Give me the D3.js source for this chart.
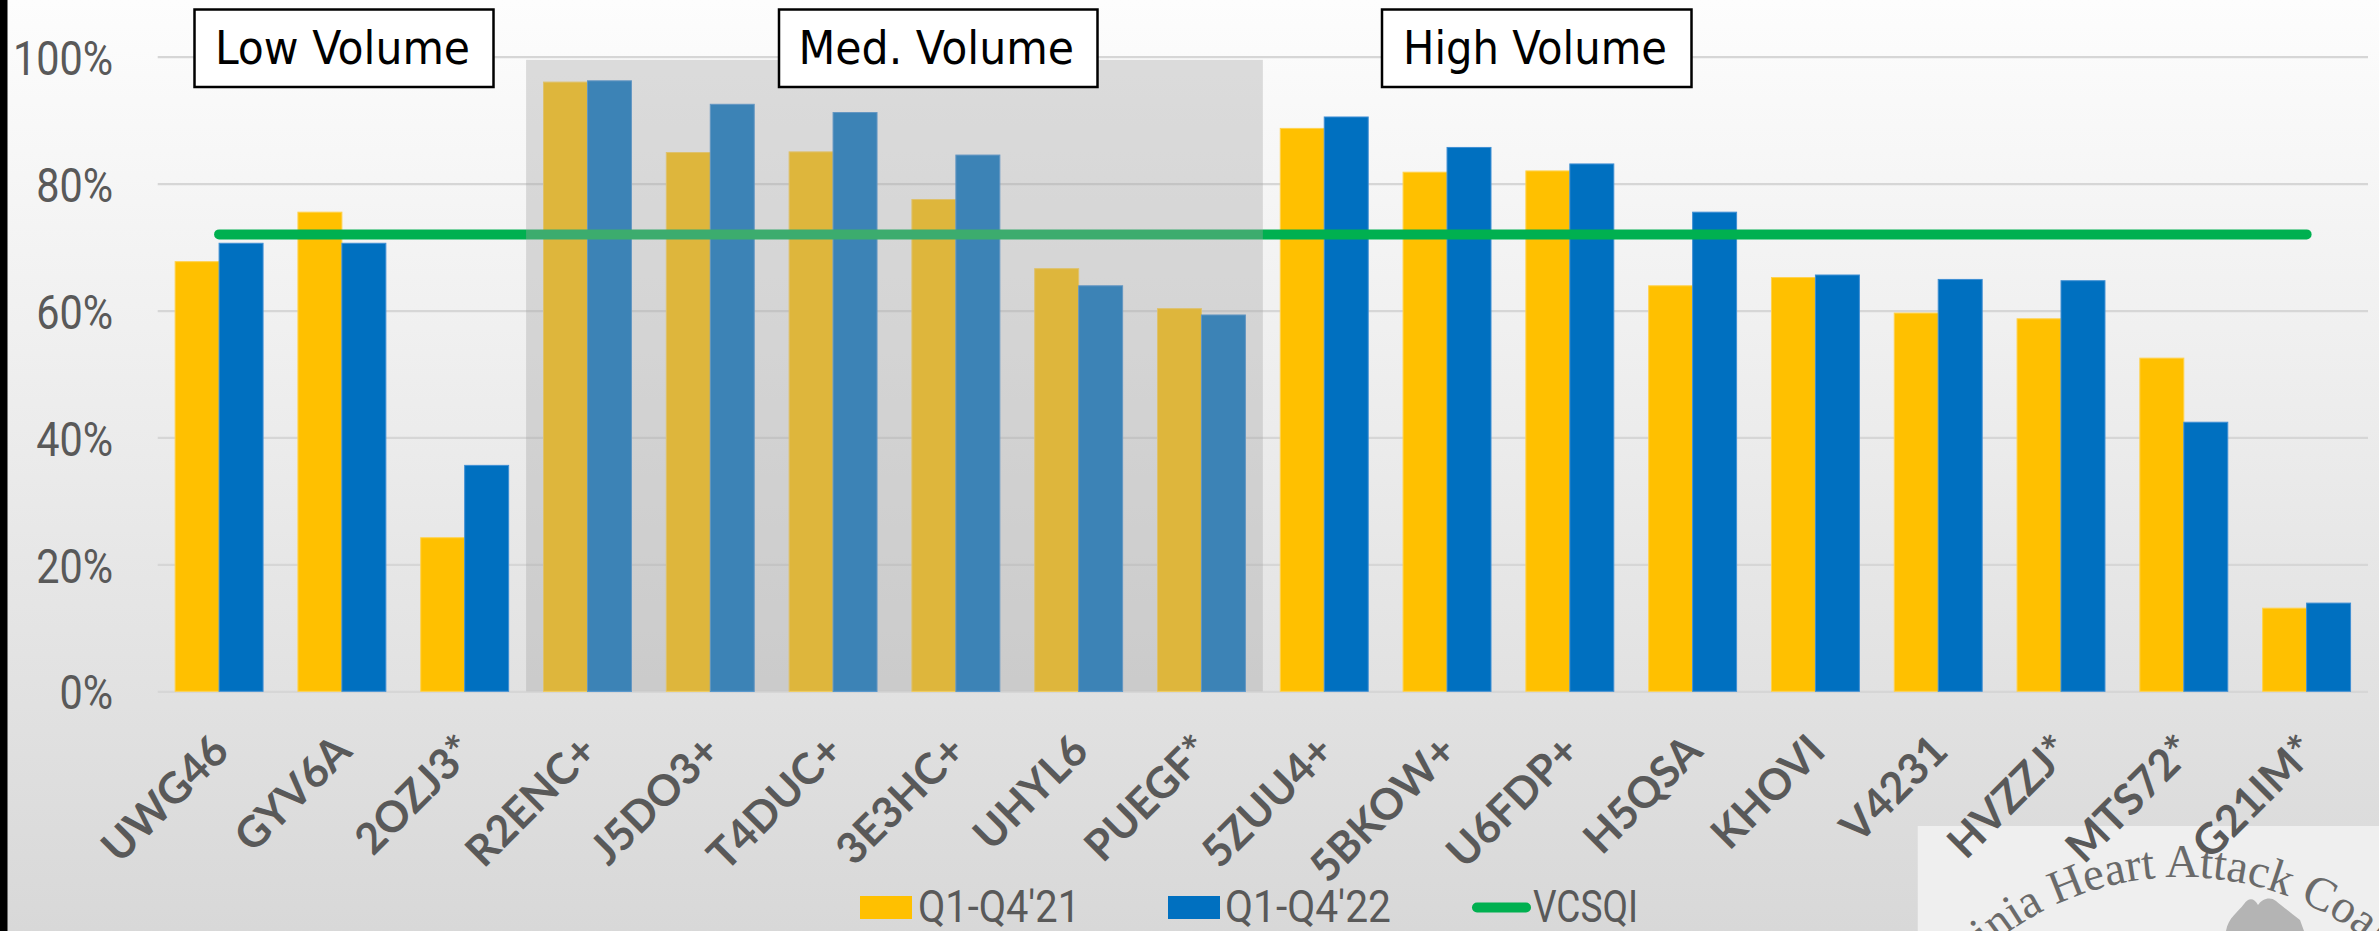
<!DOCTYPE html>
<html>
<head>
<meta charset="utf-8">
<script src="https://cdn.jsdelivr.net/npm/d3@7"></script>
<style>
  html, body { margin: 0; padding: 0; background: #fff; }
  svg { display: block; }
</style>
</head>
<body>
<svg id="chart" width="2379" height="931"></svg>
<script>
// ---- data ----
const categories = ["UWG46","GYV6A","2OZJ3*","R2ENC+","J5DO3+","T4DUC+","3E3HC+","UHYL6","PUEGF*","5ZUU4+","5BKOW+","U6FDP+","H5QSA","KHOVI","V4231","HVZZJ*","MTS72*","G21IM*"];
const q2021 = [67.7, 75.5, 24.2, 96.0, 84.9, 85.0, 77.5, 66.6, 60.3, 88.7, 81.8, 82.0, 63.9, 65.2, 59.6, 58.7, 52.5, 13.1];
const q2022 = [70.6, 70.6, 35.6, 96.2, 92.5, 91.2, 84.5, 63.9, 59.3, 90.5, 85.7, 83.1, 75.5, 65.6, 64.9, 64.7, 42.4, 13.9];
const vcsqi = [72, 72, 72, 72, 72, 72, 72, 72, 72, 72, 72, 72, 72, 72, 72, 72, 72, 72];
const seriesNames = ["Q1-Q4'21", "Q1-Q4'22", "VCSQI"];
const yTicks = [0, 20, 40, 60, 80, 100];
const volumeLabels = ["Low Volume", "Med. Volume", "High Volume"];
const medFirst = "R2ENC+", medLast = "PUEGF*";
const watermarkText = "Virginia Heart Attack Coalition";

// ---- layout ----
const W = 2379, H = 931;
const colors = {y21: "#FFC000", y22: "#0070C0", line: "#00B050"};
const narrowFont = "Roboto, 'Liberation Sans', sans-serif";
const svg = d3.select("#chart");
const defs = svg.append("defs");

const bg = defs.append("linearGradient").attr("id", "bg").attr("x1", 0).attr("y1", 0).attr("x2", 0).attr("y2", 1);
bg.append("stop").attr("offset", "0%").attr("stop-color", "#fdfdfd");
bg.append("stop").attr("offset", "100%").attr("stop-color", "#d8d8d8");
svg.append("rect").attr("width", W).attr("height", H).attr("fill", "url(#bg)");
svg.append("rect").attr("x", 0).attr("y", 0).attr("width", 7.5).attr("height", H).attr("fill", "#000");

// ---- watermark (logo), drawn under the axis labels ----
const wmX = 1917.5, wmY = 826;
defs.append("clipPath").attr("id", "wmclip").append("rect")
  .attr("x", wmX).attr("y", wmY).attr("width", W - wmX).attr("height", H - wmY);
const wm = svg.append("g").attr("clip-path", "url(#wmclip)");
wm.append("rect").attr("x", wmX).attr("y", wmY).attr("width", W - wmX).attr("height", H - wmY).attr("fill", "#efefef");
const cx = 2182, r = 300, cy = 877 + r;
defs.append("path").attr("id", "arc")
  .attr("d", `M ${cx - r} ${cy} A ${r} ${r} 0 0 1 ${cx + r} ${cy}`);
wm.append("text")
  .style("font-family", "'Liberation Serif', 'DejaVu Serif', serif")
  .style("font-size", "47px").attr("fill", "#6a6a6a")
  .append("textPath").attr("href", "#arc").attr("startOffset", "50%").attr("text-anchor", "middle")
  .text(watermarkText);
wm.append("path")
  .attr("d", "M 2226 931 C 2228 918, 2238 912, 2244 904 C 2248 898, 2254 897, 2258 905 C 2262 899, 2270 896, 2276 901 C 2282 906, 2290 912, 2300 920 L 2304 931 Z")
  .attr("fill", "#b4b4b4");

const plotL = 157.7, plotR = 2368, yBase = 691.3, yTop = 56.7;
const x0 = d3.scaleBand().domain(categories).range([plotL, plotR]).paddingInner(0.284).paddingOuter(0.142);
const x1 = d3.scaleBand().domain(["y21", "y22"]).range([0, x0.bandwidth()]);
const y = d3.scaleLinear().domain([0, 100]).range([yBase, yTop]);

// ---- y axis with gridlines ----
const yAxis = svg.append("g").attr("transform", `translate(${plotL},0)`)
  .call(d3.axisLeft(y).tickValues(yTicks).tickFormat(d => d + "%")
    .tickSizeInner(-(plotR - plotL)).tickSizeOuter(0).tickPadding(0));
yAxis.select(".domain").remove();
yAxis.selectAll(".tick line").attr("stroke", "#d6d6d6").attr("stroke-width", 2.2);
yAxis.selectAll(".tick text")
  .attr("x", 0).attr("dy", "0.36em")
  .attr("transform", "translate(-44.5,0) scale(0.845,1)")
  .attr("fill", "#595959")
  .style("font-family", narrowFont)
  .style("font-size", "49px");

// ---- bars ----
const groups = svg.append("g").selectAll("g").data(categories).join("g")
  .attr("transform", d => `translate(${x0(d)},0)`);
groups.append("rect")
  .attr("x", x1("y21")).attr("width", x1.bandwidth())
  .attr("y", (d, i) => y(q2021[i])).attr("height", (d, i) => yBase - y(q2021[i]))
  .attr("fill", colors.y21).attr("stroke", "#ffd24d").attr("stroke-width", 1);
groups.append("rect")
  .attr("x", x1("y22")).attr("width", x1.bandwidth())
  .attr("y", (d, i) => y(q2022[i])).attr("height", (d, i) => yBase - y(q2022[i]))
  .attr("fill", colors.y22).attr("stroke", "#3f8fd4").attr("stroke-width", 1);

// ---- VCSQI line ----
const line = d3.line()
  .x((d, i) => x0(categories[i]) + x0.bandwidth() / 2)
  .y(d => y(d));
svg.append("path").datum(vcsqi).attr("d", line)
  .attr("fill", "none").attr("stroke", colors.line).attr("stroke-width", 10)
  .attr("stroke-linecap", "round");

// ---- medium volume shading ----
const step = x0.step();
const shadeL = x0(medFirst) - x0.paddingInner() * step / 2;
const shadeR = x0(medLast) + x0.bandwidth() + x0.paddingInner() * step / 2;
svg.append("rect")
  .attr("x", shadeL).attr("y", y(99.5))
  .attr("width", shadeR - shadeL).attr("height", yBase - y(99.5))
  .attr("fill", "rgb(164,164,164)").attr("fill-opacity", 0.365);

// ---- volume labels ----
const boxSpecs = [
  {x: 194.5, w: 299, tx: 215, tl: 255},
  {x: 779, w: 318.5, tx: 798.5, tl: 275.5},
  {x: 1382, w: 309.5, tx: 1403, tl: 264}
];
volumeLabels.forEach((label, i) => {
  const b = boxSpecs[i];
  svg.append("rect").attr("x", b.x).attr("y", 9.5).attr("width", b.w).attr("height", 77.5)
    .attr("fill", "#fff").attr("stroke", "#000").attr("stroke-width", 2.5);
  svg.append("text").attr("x", b.tx).attr("y", 64)
    .attr("textLength", b.tl).attr("lengthAdjust", "spacingAndGlyphs")
    .style("font-family", "'DejaVu Sans Condensed', 'DejaVu Sans', sans-serif")
    .style("font-size", "47px").attr("fill", "#000").text(label);
});

// ---- x axis labels ----
const xAxis = svg.append("g").attr("transform", `translate(0,${yBase})`)
  .call(d3.axisBottom(x0).tickSize(0).tickPadding(0));
xAxis.select(".domain").remove();
xAxis.selectAll(".tick text")
  .attr("y", 0).attr("dy", 0)
  .attr("text-anchor", "end")
  .attr("transform", "translate(12,62) rotate(-45)")
  .attr("fill", "#595959")
  .style("font-family", "Lato, 'Open Sans', sans-serif")
  .style("font-weight", "bold")
  .style("font-size", "43px");

// ---- legend ----
const legendLayout = [
  {mark: "rect", mx: 860, tx: 918, tw: 162},
  {mark: "rect", mx: 1168, tx: 1225, tw: 166},
  {mark: "line", mx: 1477, tx: 1533, tw: 105}
];
const legend = svg.append("g").style("font-family", narrowFont)
  .style("font-size", "45px").attr("fill", "#595959");
const legBase = 921.5;
seriesNames.forEach((name, i) => {
  const L = legendLayout[i];
  if (L.mark === "rect") {
    legend.append("rect").attr("x", L.mx).attr("y", 896).attr("width", 52).attr("height", 23)
      .attr("fill", i === 0 ? colors.y21 : colors.y22);
  } else {
    legend.append("line").attr("x1", L.mx).attr("x2", L.mx + 49).attr("y1", 907.5).attr("y2", 907.5)
      .attr("stroke", colors.line).attr("stroke-width", 10).attr("stroke-linecap", "round");
  }
  legend.append("text").attr("x", L.tx).attr("y", legBase)
    .attr("textLength", L.tw).attr("lengthAdjust", "spacingAndGlyphs").text(name);
});
</script>
</body>
</html>
